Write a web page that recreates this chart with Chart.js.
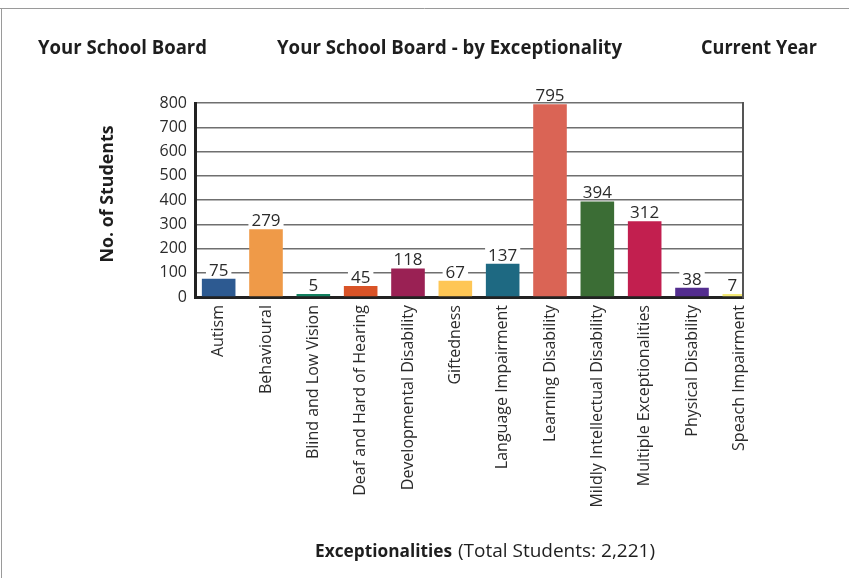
<!DOCTYPE html>
<html>
<head>
<meta charset="utf-8">
<script src="https://cdn.jsdelivr.net/npm/chart.js@4"></script>
<style>
  html, body { margin: 0; padding: 0; background: #fff; }
  #wrap { width: 849px; height: 578px; }
</style>
</head>
<body>
<div id="wrap"><canvas id="myChart" width="849" height="578"></canvas></div>
<script>
var categories = ['Autism', 'Behavioural', 'Blind and Low Vision', 'Deaf and Hard of Hearing',
  'Developmental Disability', 'Giftedness', 'Language Impairment', 'Learning Disability',
  'Mildly Intellectual Disability', 'Multiple Exceptionalities', 'Physical Disability', 'Speach Impairment'];
var students = [75, 279, 5, 45, 118, 67, 137, 795, 394, 312, 38, 7];
var barColors = ['#2d5a91', '#ef9a48', '#12805f', '#d95327', '#9a2154', '#fec655',
  '#1e6982', '#da6455', '#3b6d35', '#c21f4f', '#532d8f', '#f4e976'];
var yTicks = [0, 100, 200, 300, 400, 500, 600, 700, 800];

var headLeft = 'Your School Board';
var headMid = 'Your School Board - by Exceptionality';
var headRight = 'Current Year';
var yTitle = 'No. of Students';
var xTitleBold = 'Exceptionalities';
var xTitleRest = ' (Total Students: 2,221)';

var plotRight = 743; // visible right edge of the plot frame

var decor = {
  id: 'decor',
  beforeDraw: function(chart) {
    var c = chart.ctx;
    c.save();
    c.strokeStyle = '#9a9a9a';
    c.lineWidth = 1;
    c.beginPath();
    c.moveTo(0, 8.5); c.lineTo(849, 8.5);
    c.moveTo(1.5, 8); c.lineTo(1.5, 578);
    c.stroke();
    c.restore();
  },
  afterDraw: function(chart) {
    var c = chart.ctx;
    var a = chart.chartArea;
    c.save();
    // cut the plot off at its visible frame
    c.fillStyle = '#fff';
    c.fillRect(plotRight + 1, a.top - 10, a.right - plotRight + 10, a.bottom - a.top + 12.5);
    c.strokeStyle = '#555';
    c.lineWidth = 2;
    c.beginPath();
    c.moveTo(plotRight, a.top - 1); c.lineTo(plotRight, a.bottom + 1.5);
    c.stroke();

    // value labels, centred over the visible part of each bar
    var meta = chart.getDatasetMeta(0);
    c.font = '17px "Open Sans"';
    c.textAlign = 'center';
    c.textBaseline = 'alphabetic';
    meta.data.forEach(function(bar, i) {
      var txt = String(students[i]);
      var w = c.measureText(txt).width;
      var l = bar.x - bar.width / 2;
      var r = Math.min(bar.x + bar.width / 2, plotRight - 1);
      var cx = (l + r) / 2;
      var base = bar.y - 3;
      c.fillStyle = '#fff';
      c.fillRect(cx - w / 2 - 3, base - 13, w + 6, 13);
      c.fillStyle = '#2b2b2b';
      c.fillText(txt, cx, base);
    });

    c.fillStyle = '#1e1e1e';
    c.textBaseline = 'middle';
    c.font = 'bold 19px "Open Sans"';
    c.textAlign = 'left';
    c.fillText(headLeft, 38, 49, 169);
    c.fillText(headMid, 277, 49, 345);
    c.fillText(headRight, 701, 49, 116);

    c.save();
    c.translate(108, 194);
    c.rotate(-Math.PI / 2);
    c.textAlign = 'center';
    c.font = 'bold 18px "Open Sans"';
    c.fillText(yTitle, 0, 0, 137);
    c.restore();

    c.textAlign = 'left';
    c.font = 'bold 18px "Open Sans"';
    c.fillText(xTitleBold, 315, 552, 137);
    c.font = '19px "Open Sans"';
    c.fillText(xTitleRest, 453, 552, 202);
    c.restore();
  }
};

var ctx = document.getElementById('myChart').getContext('2d');
var chart = new Chart(ctx, {
  type: 'bar',
  data: {
    labels: categories,
    datasets: [{
      data: students,
      backgroundColor: barColors,
      borderWidth: 0,
      barPercentage: 0.71,
      categoryPercentage: 1.0,
      minBarLength: 3
    }]
  },
  options: {
    responsive: false,
    animation: false,
    events: [],
    layout: { padding: { top: 103, right: 86, left: 0, bottom: 0 } },
    plugins: {
      legend: { display: false },
      tooltip: { enabled: false },
      title: { display: false }
    },
    scales: {
      x: {
        grid: { display: false, drawTicks: false },
        border: { color: '#222', width: 3 },
        ticks: {
          autoSkip: false,
          minRotation: 90,
          maxRotation: 90,
          padding: 8,
          color: '#2b2b2b',
          font: { family: 'Open Sans', size: 16 }
        },
        afterFit: function(scale) { scale.height = 281; }
      },
      y: {
        min: yTicks[0],
        max: yTicks[yTicks.length - 1],
        afterBuildTicks: function(scale) {
          scale.ticks = yTicks.map(function(v) { return { value: v }; });
        },
        grid: { color: '#6f6f6f', lineWidth: 1.5, drawTicks: false },
        border: { color: '#222', width: 3 },
        ticks: {
          padding: 8,
          color: '#2b2b2b',
          font: { family: 'Open Sans', size: 16 }
        },
        afterFit: function(scale) { scale.width = 195; }
      }
    }
  },
  plugins: [decor]
});
</script>
</body>
</html>
